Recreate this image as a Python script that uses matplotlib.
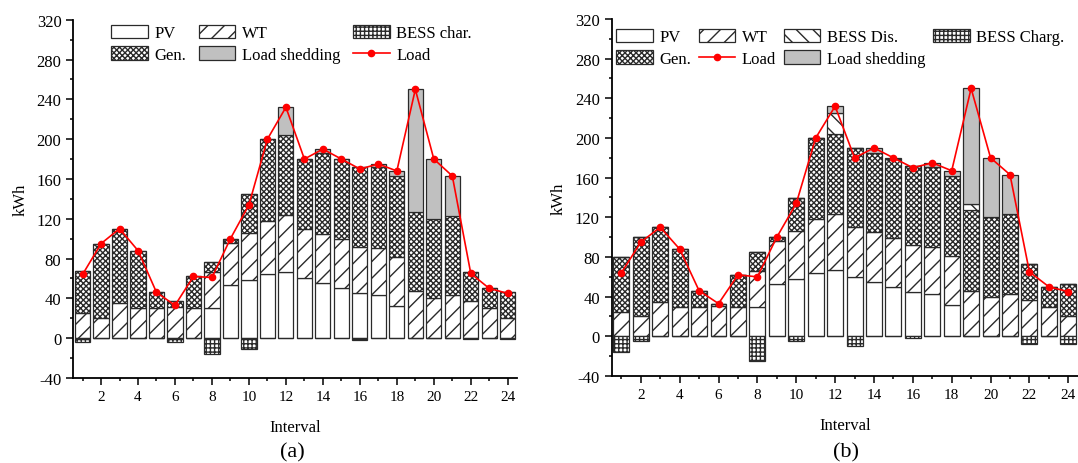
import matplotlib
matplotlib.use("Agg")
import matplotlib.pyplot as plt
import numpy as np

plt.rcParams['font.family'] = ['Liberation Serif', 'DejaVu Serif']
plt.rcParams['hatch.linewidth'] = 1.0
plt.rcParams['axes.unicode_minus'] = False

intervals = np.arange(1, 25)

# (a)
pv_a = [0, 0, 0, 0, 0, 0, 0, 30, 53, 58, 64, 67, 60, 55, 50, 45, 43, 32, 0, 0, 0, 0, 0, 0]
wt_a = [25, 20, 35, 30, 30, 31, 30, 37, 43, 48, 54, 57, 50, 50, 50, 47, 48, 50, 47, 40, 43, 37, 30, 20]
gen_a = [43, 75, 75, 58, 16, 6, 32, 10, 4, 39, 82, 80, 70, 81, 80, 80, 81, 81, 80, 80, 80, 29, 20, 26]
shed_a = [0, 0, 0, 0, 0, 0, 0, 0, 0, 0, 0, 28, 0, 4, 0, 0, 3, 5, 123, 60, 40, 0, 0, 0]
char_a = [-4, 0, 0, 0, 0, -4, 0, -16, 0, -11, 0, 0, 0, 0, 0, -2, 0, 0, 0, 0, 0, -1, 0, -1]
load_a = [64, 95, 110, 88, 46, 33, 62, 61, 100, 134, 200, 232, 180, 190, 180, 170, 175, 168, 250, 180, 163, 65, 50, 45]

# (b)
pv_b = [0, 0, 0, 0, 0, 0, 0, 30, 53, 58, 64, 67, 60, 55, 50, 45, 43, 32, 0, 0, 0, 0, 0, 0]
wt_b = [25, 20, 35, 30, 30, 31, 30, 36, 43, 48, 54, 56, 50, 50, 49, 47, 47, 49, 46, 40, 43, 37, 30, 20]
gen_b = [55, 80, 75, 58, 16, 2, 32, 19, 4, 33, 82, 81, 80, 80, 80, 80, 81, 81, 81, 80, 80, 36, 20, 33]
dis_b = [0, 0, 0, 0, 0, 0, 0, 0, 0, 0, 0, 21, 0, 0, 0, 0, 0, 0, 6, 0, 0, 0, 0, 0]
shed_b = [0, 0, 0, 0, 0, 0, 0, 0, 0, 0, 0, 7, 0, 5, 1, 0, 4, 5, 117, 60, 40, 0, 0, 0]
char_b = [-16, -5, 0, 0, 0, 0, 0, -25, 0, -5, 0, 0, -10, 0, 0, -2, 0, 0, 0, 0, 0, -8, 0, -8]
load_b = [64, 95, 110, 88, 46, 33, 62, 60, 100, 134, 200, 232, 180, 190, 180, 170, 175, 167, 250, 180, 163, 65, 50, 45]

W = 0.82
EC = '#2a2a2a'
LW = 0.9


def bar(ax, vals, bottom, label, color='white', hatch=None):
    return ax.bar(intervals, vals, W, bottom=bottom, color=color, edgecolor=EC,
                  linewidth=LW, hatch=hatch, label=label)


def style(ax):
    ax.set_xlim(0.5, 24.5)
    ax.set_ylim(-40, 320)
    ax.set_xticks(np.arange(2, 25, 2))
    ax.set_xticks(np.arange(1, 25, 2), minor=True)
    ax.set_yticks(np.arange(-40, 321, 40))
    ax.set_yticks(np.arange(-20, 320, 40), minor=True)
    ax.spines['top'].set_visible(False)
    ax.spines['right'].set_visible(False)
    ax.spines['left'].set_linewidth(1.3)
    ax.spines['bottom'].set_linewidth(1.3)
    ax.tick_params(which='major', length=5, width=1.1, direction='out')
    ax.tick_params(which='minor', length=2.5, width=1.1, direction='out')
    ax.tick_params(axis='x', labelsize=11)
    ax.tick_params(axis='y', labelsize=12)
    ax.set_xlabel('Interval', fontsize=12, labelpad=12)
    ax.set_ylabel('kWh', fontsize=12, labelpad=6)


fig = plt.figure(figsize=(10.78, 4.64), dpi=100)
ax1 = fig.add_axes([0.068, 0.1832, 0.4116, 0.7722])
ax2 = fig.add_axes([0.5674, 0.1875, 0.4326, 0.7694])

GEN_HATCH = 'xxxxxx'

# panel (a)
pv_a_, wt_a_, gen_a_ = map(np.array, (pv_a, wt_a, gen_a))
h_pv = bar(ax1, pv_a, 0, 'PV')
h_wt = bar(ax1, wt_a, pv_a_, 'WT', hatch='//')
h_gen = bar(ax1, gen_a, pv_a_ + wt_a_, 'Gen.', hatch=GEN_HATCH)
h_ls = bar(ax1, shed_a, pv_a_ + wt_a_ + gen_a_, 'Load shedding', color='#c0c0c0')
h_ch = bar(ax1, char_a, 0, 'BESS char.', hatch='++++')
h_ld, = ax1.plot(intervals, load_a, color='#ff0000', lw=1.2, marker='o', ms=4.5, label='Load')
style(ax1)
ax1.legend([h_pv, h_gen, h_wt, h_ls, h_ch, h_ld],
           ['PV', 'Gen.', 'WT', 'Load shedding', 'BESS char.', 'Load'],
           ncol=3, loc='upper left', bbox_to_anchor=(0.085, 0.985), frameon=False,
           fontsize=12, handlelength=2.2, handleheight=0.85, handletextpad=0.4,
           columnspacing=0.75, labelspacing=0.3, borderpad=0, borderaxespad=0)

# panel (b)
pv_b_, wt_b_, gen_b_, dis_b_ = map(np.array, (pv_b, wt_b, gen_b, dis_b))
g_pv = bar(ax2, pv_b, 0, 'PV')
g_wt = bar(ax2, wt_b, pv_b_, 'WT', hatch='//')
g_gen = bar(ax2, gen_b, pv_b_ + wt_b_, 'Gen.', hatch=GEN_HATCH)
g_dis = bar(ax2, dis_b, pv_b_ + wt_b_ + gen_b_, 'BESS Dis.', hatch='\\\\')
g_ls = bar(ax2, shed_b, pv_b_ + wt_b_ + gen_b_ + dis_b_, 'Load shedding', color='#c0c0c0')
g_ch = bar(ax2, char_b, 0, 'BESS Charg.', hatch='++++')
g_ld, = ax2.plot(intervals, load_b, color='#ff0000', lw=1.2, marker='o', ms=4.5, label='Load')
style(ax2)
ax2.legend([g_pv, g_gen, g_wt, g_ld, g_dis, g_ls, g_ch],
           ['PV', 'Gen.', 'WT', 'Load', 'BESS Dis.', 'Load shedding', 'BESS Charg.'],
           ncol=4, loc='upper left', bbox_to_anchor=(0.009, 0.972), frameon=False,
           fontsize=12, handlelength=2.2, handleheight=0.85, handletextpad=0.4,
           columnspacing=0.45, labelspacing=0.3, borderpad=0, borderaxespad=0)

fig.text(292 / 1078, 1 - 453 / 464, '(a)', fontsize=16, ha='center', va='center')
fig.text(846 / 1078, 1 - 453 / 464, '(b)', fontsize=16, ha='center', va='center')

fig.savefig('out.png', dpi=100)
